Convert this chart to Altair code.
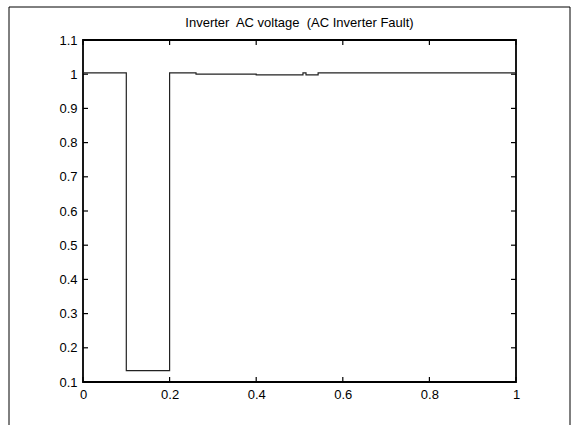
import altair as alt
import pandas as pd

# Step signal (time in s, per-unit voltage)
t_vals = [0.0, 0.1, 0.2, 0.261, 0.40, 0.508, 0.515, 0.543, 1.0]
v_vals = [1.004, 0.133, 1.004, 1.0, 0.998, 1.004, 0.998, 1.004, 1.004]

x_tick_vals = [0.0, 0.2, 0.4, 0.6, 0.8, 1.0]
y_tick_vals = [0.1, 0.2, 0.3, 0.4, 0.5, 0.6, 0.7, 0.8, 0.9, 1.0, 1.1]

title_text = "Inverter\u00a0 AC voltage\u00a0 (AC Inverter Fault)"

W, H = 433, 342
FONT = "Liberation Sans"

line_df = pd.DataFrame({"x": t_vals, "y": v_vals})
xt_df = pd.DataFrame({"x": x_tick_vals})
yt_df = pd.DataFrame({"y": y_tick_vals})
one_df = pd.DataFrame({"a": [0]})

xscale = alt.Scale(domain=[0, 1], nice=False, zero=False)
yscale = alt.Scale(domain=[0.1, 1.1], nice=False, zero=False)

x_axis = alt.Axis(values=x_tick_vals, format="~g", title=None, grid=False,
                  ticks=False, domain=False, labelPadding=6, labelFontSize=13,
                  labelFont=FONT, labelColor="black", labelFlush=False)
y_axis = alt.Axis(values=y_tick_vals, format="~g", title=None, grid=False,
                  ticks=False, domain=False, labelPadding=6, labelFontSize=13,
                  labelFont=FONT, labelColor="black", labelFlush=False)

frame = alt.Chart(one_df).mark_rect(fillOpacity=0, stroke="black", strokeWidth=1).encode(
    x=alt.value(-74), x2=alt.value(487), y=alt.value(-33), y2=alt.value(400)
)

title = alt.Chart(one_df).mark_text(font=FONT, fontSize=13, color="black",
                                    align="center", baseline="middle").encode(
    x=alt.value(W / 2), y=alt.value(-17), text=alt.value(title_text)
)

line = alt.Chart(line_df).mark_line(interpolate="step-after", color="#222222", strokeWidth=1.2).encode(
    x=alt.X("x:Q", scale=xscale, axis=x_axis),
    y=alt.Y("y:Q", scale=yscale, axis=y_axis),
)

tick_style = dict(color="black", strokeWidth=1.2)
xt_bottom = alt.Chart(xt_df).mark_rule(**tick_style).encode(
    x=alt.X("x:Q", scale=xscale, axis=x_axis), y=alt.value(H), y2=alt.value(H - 5)
)
xt_top = alt.Chart(xt_df).mark_rule(**tick_style).encode(
    x=alt.X("x:Q", scale=xscale, axis=x_axis), y=alt.value(0), y2=alt.value(5)
)
yt_left = alt.Chart(yt_df).mark_rule(**tick_style).encode(
    y=alt.Y("y:Q", scale=yscale, axis=y_axis), x=alt.value(0), x2=alt.value(5)
)
yt_right = alt.Chart(yt_df).mark_rule(**tick_style).encode(
    y=alt.Y("y:Q", scale=yscale, axis=y_axis), x=alt.value(W), x2=alt.value(W - 5)
)

chart = alt.layer(frame, title, line, xt_bottom, xt_top, yt_left, yt_right).properties(
    width=W, height=H,
    autosize=alt.AutoSizeParams(type="none"),
    padding={"left": 83, "top": 40, "right": 57, "bottom": 43},
    background="white",
).configure_view(stroke="black", strokeWidth=1.8)

chart.save("out.html", embed_options={"renderer": "svg", "actions": False})
